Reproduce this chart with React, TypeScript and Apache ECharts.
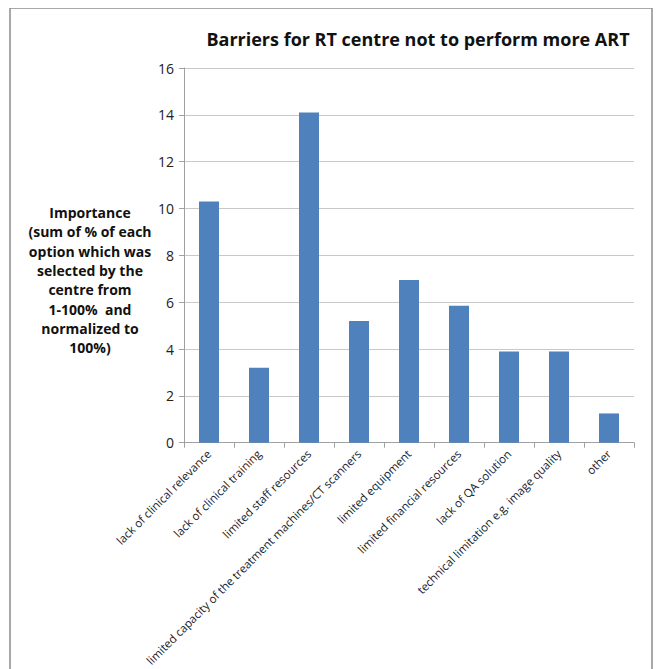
import React, { useEffect, useRef } from "react";
import * as echarts from "echarts";

const categories = [
  "lack of clinical relevance",
  "lack of clinical training",
  "limited staff resources",
  "limited capacity of the treatment machines/CT scanners",
  "limited equipment",
  "limited financial resources",
  "lack of QA solution",
  "technical limitation e.g. image quality",
  "other",
];
const values = [10.3, 3.2, 14.1, 5.2, 6.95, 5.85, 3.9, 3.9, 1.25];
const yTicks = { min: 0, max: 16, interval: 2 };
const titleText = "Barriers for RT centre not to perform more ART";
const yAxisTitle = [
  "Importance",
  "(sum of % of each",
  "option which was",
  "selected by the",
  "centre from",
  "1-100%  and",
  "normalized to",
  "100%)",
];

export default function App() {
  const ref = useRef<HTMLDivElement>(null);
  useEffect(() => {
    const chart = echarts.init(ref.current!, null, { renderer: "svg" });
    const font = "'Open Sans', 'Noto Sans', sans-serif";
    chart.setOption({
      animation: false,
      backgroundColor: "#ffffff",
      title: {
        text: titleText,
        left: 405,
        top: 17,
        textAlign: "center",
        textStyle: { fontFamily: font, fontSize: 18, fontWeight: "bold", color: "#111" },
      },
      grid: { left: 176, right: 31, top: 60, bottom: 225, containLabel: false },
      xAxis: {
        type: "category",
        data: categories,
        axisLine: { lineStyle: { color: "#a0a0a0" } },
        axisTick: { show: true, alignWithLabel: false, length: 5, lineStyle: { color: "#a0a0a0" } },
        axisLabel: {
          rotate: 45,
          interval: 0,
          fontFamily: font,
          fontSize: 11.5,
          color: "#222",
          margin: 9,
        },
      },
      yAxis: {
        type: "value",
        min: yTicks.min,
        max: yTicks.max,
        interval: yTicks.interval,
        axisLine: { show: true, lineStyle: { color: "#a0a0a0" } },
        axisTick: { show: true, length: 5, lineStyle: { color: "#a0a0a0" } },
        splitLine: { lineStyle: { color: "#c8c8c8" } },
        axisLabel: { fontFamily: font, fontSize: 14, color: "#222", margin: 10 },
      },
      series: [
        {
          type: "bar",
          data: values,
          barWidth: "40%",
          itemStyle: { color: "#4f81bd" },
        },
      ],
      graphic: [
        {
          type: "rect",
          shape: { x: 2, y: 0, width: 642, height: 700 },
          style: { fill: "none", stroke: "#8c8c8c", lineWidth: 1.5 },
          silent: true,
        },
        {
          type: "text",
          x: 82,
          y: 195,
          style: {
            text: yAxisTitle.join("\n"),
            fontFamily: font,
            fontSize: 14,
            fontWeight: "bold",
            lineHeight: 19.3,
            fill: "#111",
            textAlign: "center",
          },
        },
      ],
    });
    return () => chart.dispose();
  }, []);
  return <div ref={ref} style={{ width: 657, height: 661 }} />;
}
